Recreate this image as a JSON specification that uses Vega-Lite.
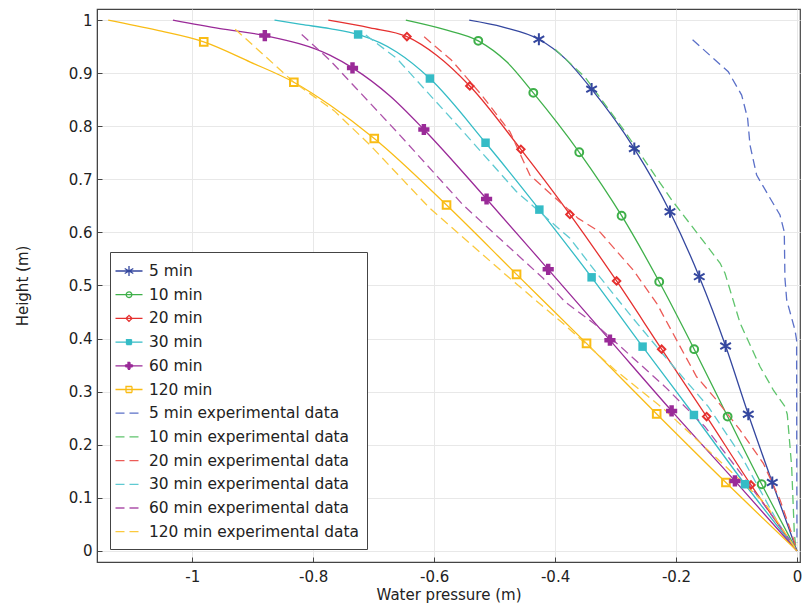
{
  "$schema": "https://vega.github.io/schema/vega-lite/v6.json",
  "width": 703,
  "height": 553,
  "autosize": {"type": "none"},
  "padding": {"left": 97, "top": 9, "right": 2, "bottom": 41},
  "background": "white",
  "config": {
    "view": {"stroke": "#444", "strokeWidth": 1.2},
    "font": "DejaVu Sans"
  },
  "datasets": {
    "model": [
      {"series": "5 min", "p": -0.542, "h": 1.0}, {"series": "5 min", "p": -0.486, "h": 0.987}, {"series": "5 min", "p": -0.4268, "h": 0.964}, {"series": "5 min", "p": -0.3838, "h": 0.928}, {"series": "5 min", "p": -0.3396, "h": 0.87}, {"series": "5 min", "p": -0.269, "h": 0.758}, {"series": "5 min", "p": -0.21, "h": 0.639}, {"series": "5 min", "p": -0.1616, "h": 0.5166}, {"series": "5 min", "p": -0.118, "h": 0.386}, {"series": "5 min", "p": -0.0805, "h": 0.2574}, {"series": "5 min", "p": -0.0408, "h": 0.1287}, {"series": "5 min", "p": 0, "h": 0},
      {"series": "10 min", "p": -0.6468, "h": 1.0}, {"series": "10 min", "p": -0.585, "h": 0.983}, {"series": "10 min", "p": -0.527, "h": 0.961}, {"series": "10 min", "p": -0.48, "h": 0.9215}, {"series": "10 min", "p": -0.436, "h": 0.863}, {"series": "10 min", "p": -0.36, "h": 0.751}, {"series": "10 min", "p": -0.29, "h": 0.6315}, {"series": "10 min", "p": -0.2278, "h": 0.507}, {"series": "10 min", "p": -0.17, "h": 0.38}, {"series": "10 min", "p": -0.1147, "h": 0.253}, {"series": "10 min", "p": -0.0584, "h": 0.1255}, {"series": "10 min", "p": 0, "h": 0},
      {"series": "20 min", "p": -0.775, "h": 1.0}, {"series": "20 min", "p": -0.706, "h": 0.9855}, {"series": "20 min", "p": -0.645, "h": 0.969}, {"series": "20 min", "p": -0.596, "h": 0.934}, {"series": "20 min", "p": -0.541, "h": 0.876}, {"series": "20 min", "p": -0.4566, "h": 0.7565}, {"series": "20 min", "p": -0.3755, "h": 0.634}, {"series": "20 min", "p": -0.2983, "h": 0.5085}, {"series": "20 min", "p": -0.2238, "h": 0.38}, {"series": "20 min", "p": -0.1494, "h": 0.253}, {"series": "20 min", "p": -0.0761, "h": 0.1243}, {"series": "20 min", "p": 0, "h": 0},
      {"series": "30 min", "p": -0.864, "h": 1.0}, {"series": "30 min", "p": -0.82, "h": 0.992}, {"series": "30 min", "p": -0.7725, "h": 0.984}, {"series": "30 min", "p": -0.7257, "h": 0.973}, {"series": "30 min", "p": -0.662, "h": 0.94}, {"series": "30 min", "p": -0.607, "h": 0.89}, {"series": "30 min", "p": -0.515, "h": 0.769}, {"series": "30 min", "p": -0.426, "h": 0.643}, {"series": "30 min", "p": -0.3396, "h": 0.5154}, {"series": "30 min", "p": -0.2553, "h": 0.3848}, {"series": "30 min", "p": -0.1704, "h": 0.256}, {"series": "30 min", "p": -0.086, "h": 0.1255}, {"series": "30 min", "p": 0, "h": 0},
      {"series": "60 min", "p": -1.032, "h": 1.0}, {"series": "60 min", "p": -0.954, "h": 0.984}, {"series": "60 min", "p": -0.88, "h": 0.971}, {"series": "60 min", "p": -0.7725, "h": 0.934}, {"series": "60 min", "p": -0.735, "h": 0.91}, {"series": "60 min", "p": -0.673, "h": 0.857}, {"series": "60 min", "p": -0.617, "h": 0.794}, {"series": "60 min", "p": -0.5133, "h": 0.663}, {"series": "60 min", "p": -0.4114, "h": 0.5305}, {"series": "60 min", "p": -0.3093, "h": 0.397}, {"series": "60 min", "p": -0.2073, "h": 0.2637}, {"series": "60 min", "p": -0.1026, "h": 0.1318}, {"series": "60 min", "p": 0, "h": 0},
      {"series": "120 min", "p": -1.139, "h": 1.0}, {"series": "120 min", "p": -1.0587, "h": 0.981}, {"series": "120 min", "p": -0.981, "h": 0.959}, {"series": "120 min", "p": -0.904, "h": 0.921}, {"series": "120 min", "p": -0.832, "h": 0.883}, {"series": "120 min", "p": -0.7725, "h": 0.84}, {"series": "120 min", "p": -0.699, "h": 0.777}, {"series": "120 min", "p": -0.5795, "h": 0.6516}, {"series": "120 min", "p": -0.4637, "h": 0.521}, {"series": "120 min", "p": -0.348, "h": 0.391}, {"series": "120 min", "p": -0.232, "h": 0.258}, {"series": "120 min", "p": -0.1175, "h": 0.1287}, {"series": "120 min", "p": 0, "h": 0}
    ],
    "markers": [
      {"series": "5 min", "p": -0.4268, "h": 0.964}, {"series": "5 min", "p": -0.3396, "h": 0.87}, {"series": "5 min", "p": -0.269, "h": 0.758}, {"series": "5 min", "p": -0.21, "h": 0.639}, {"series": "5 min", "p": -0.1616, "h": 0.5166}, {"series": "5 min", "p": -0.118, "h": 0.386}, {"series": "5 min", "p": -0.0805, "h": 0.2574}, {"series": "5 min", "p": -0.0408, "h": 0.1287},
      {"series": "10 min", "p": -0.527, "h": 0.961}, {"series": "10 min", "p": -0.436, "h": 0.863}, {"series": "10 min", "p": -0.36, "h": 0.751}, {"series": "10 min", "p": -0.29, "h": 0.6315}, {"series": "10 min", "p": -0.2278, "h": 0.507}, {"series": "10 min", "p": -0.17, "h": 0.38}, {"series": "10 min", "p": -0.1147, "h": 0.253}, {"series": "10 min", "p": -0.0584, "h": 0.1255},
      {"series": "20 min", "p": -0.645, "h": 0.969}, {"series": "20 min", "p": -0.541, "h": 0.876}, {"series": "20 min", "p": -0.4566, "h": 0.7565}, {"series": "20 min", "p": -0.3755, "h": 0.634}, {"series": "20 min", "p": -0.2983, "h": 0.5085}, {"series": "20 min", "p": -0.2238, "h": 0.38}, {"series": "20 min", "p": -0.1494, "h": 0.253}, {"series": "20 min", "p": -0.0761, "h": 0.1243},
      {"series": "30 min", "p": -0.7257, "h": 0.973}, {"series": "30 min", "p": -0.607, "h": 0.89}, {"series": "30 min", "p": -0.515, "h": 0.769}, {"series": "30 min", "p": -0.426, "h": 0.643}, {"series": "30 min", "p": -0.3396, "h": 0.5154}, {"series": "30 min", "p": -0.2553, "h": 0.3848}, {"series": "30 min", "p": -0.1704, "h": 0.256}, {"series": "30 min", "p": -0.086, "h": 0.1255},
      {"series": "60 min", "p": -0.88, "h": 0.971}, {"series": "60 min", "p": -0.735, "h": 0.91}, {"series": "60 min", "p": -0.617, "h": 0.794}, {"series": "60 min", "p": -0.5133, "h": 0.663}, {"series": "60 min", "p": -0.4114, "h": 0.5305}, {"series": "60 min", "p": -0.3093, "h": 0.397}, {"series": "60 min", "p": -0.2073, "h": 0.2637}, {"series": "60 min", "p": -0.1026, "h": 0.1318},
      {"series": "120 min", "p": -0.981, "h": 0.959}, {"series": "120 min", "p": -0.832, "h": 0.883}, {"series": "120 min", "p": -0.699, "h": 0.777}, {"series": "120 min", "p": -0.5795, "h": 0.6516}, {"series": "120 min", "p": -0.4637, "h": 0.521}, {"series": "120 min", "p": -0.348, "h": 0.391}, {"series": "120 min", "p": -0.232, "h": 0.258}, {"series": "120 min", "p": -0.1175, "h": 0.1287}
    ],
    "exp": [
      {"series": "5 min experimental data", "p": -0.1726, "h": 0.963}, {"series": "5 min experimental data", "p": -0.1136, "h": 0.9027}, {"series": "5 min experimental data", "p": -0.0915, "h": 0.8588}, {"series": "5 min experimental data", "p": -0.0816, "h": 0.815}, {"series": "5 min experimental data", "p": -0.0777, "h": 0.7646}, {"series": "5 min experimental data", "p": -0.0667, "h": 0.708}, {"series": "5 min experimental data", "p": -0.0475, "h": 0.6704}, {"series": "5 min experimental data", "p": -0.0281, "h": 0.6328}, {"series": "5 min experimental data", "p": -0.021, "h": 0.601}, {"series": "5 min experimental data", "p": -0.0199, "h": 0.5135}, {"series": "5 min experimental data", "p": -0.017, "h": 0.4727}, {"series": "5 min experimental data", "p": -0.0033, "h": 0.416}, {"series": "5 min experimental data", "p": -0.0006, "h": 0.397}, {"series": "5 min experimental data", "p": -0.0004, "h": 0.2}, {"series": "5 min experimental data", "p": 0, "h": 0.015},
      {"series": "10 min experimental data", "p": -0.4, "h": 0.945}, {"series": "10 min experimental data", "p": -0.3507, "h": 0.893}, {"series": "10 min experimental data", "p": -0.2845, "h": 0.79}, {"series": "10 min experimental data", "p": -0.207, "h": 0.661}, {"series": "10 min experimental data", "p": -0.1605, "h": 0.592}, {"series": "10 min experimental data", "p": -0.127, "h": 0.5418}, {"series": "10 min experimental data", "p": -0.119, "h": 0.523}, {"series": "10 min experimental data", "p": -0.094, "h": 0.4288}, {"series": "10 min experimental data", "p": -0.061, "h": 0.347}, {"series": "10 min experimental data", "p": -0.039, "h": 0.303}, {"series": "10 min experimental data", "p": -0.0199, "h": 0.2718}, {"series": "10 min experimental data", "p": -0.016, "h": 0.257}, {"series": "10 min experimental data", "p": -0.0088, "h": 0.159}, {"series": "10 min experimental data", "p": -0.0044, "h": 0.033}, {"series": "10 min experimental data", "p": -0.002, "h": 0.008},
      {"series": "20 min experimental data", "p": -0.6165, "h": 0.9686}, {"series": "20 min experimental data", "p": -0.5716, "h": 0.925}, {"series": "20 min experimental data", "p": -0.5216, "h": 0.859}, {"series": "20 min experimental data", "p": -0.4748, "h": 0.79}, {"series": "20 min experimental data", "p": -0.4417, "h": 0.708}, {"series": "20 min experimental data", "p": -0.3866, "h": 0.6516}, {"series": "20 min experimental data", "p": -0.3618, "h": 0.6265}, {"series": "20 min experimental data", "p": -0.326, "h": 0.601}, {"series": "20 min experimental data", "p": -0.2708, "h": 0.529}, {"series": "20 min experimental data", "p": -0.232, "h": 0.4665}, {"series": "20 min experimental data", "p": -0.199, "h": 0.397}, {"series": "20 min experimental data", "p": -0.166, "h": 0.328}, {"series": "20 min experimental data", "p": -0.1328, "h": 0.284}, {"series": "20 min experimental data", "p": -0.0943, "h": 0.228}, {"series": "20 min experimental data", "p": -0.0557, "h": 0.165}, {"series": "20 min experimental data", "p": -0.028, "h": 0.096}, {"series": "20 min experimental data", "p": -0.0088, "h": 0.033}, {"series": "20 min experimental data", "p": -0.002, "h": 0.008},
      {"series": "30 min experimental data", "p": -0.713, "h": 0.972}, {"series": "30 min experimental data", "p": -0.662, "h": 0.928}, {"series": "30 min experimental data", "p": -0.552, "h": 0.79}, {"series": "30 min experimental data", "p": -0.4637, "h": 0.6767}, {"series": "30 min experimental data", "p": -0.3755, "h": 0.589}, {"series": "30 min experimental data", "p": -0.3287, "h": 0.5198}, {"series": "30 min experimental data", "p": -0.2735, "h": 0.4413}, {"series": "30 min experimental data", "p": -0.2184, "h": 0.366}, {"series": "30 min experimental data", "p": -0.1467, "h": 0.2718}, {"series": "30 min experimental data", "p": -0.0915, "h": 0.1776}, {"series": "30 min experimental data", "p": -0.0309, "h": 0.0521}, {"series": "30 min experimental data", "p": -0.002, "h": 0.005},
      {"series": "60 min experimental data", "p": -0.819, "h": 0.973}, {"series": "60 min experimental data", "p": -0.7725, "h": 0.9247}, {"series": "60 min experimental data", "p": -0.662, "h": 0.79}, {"series": "60 min experimental data", "p": -0.552, "h": 0.6516}, {"series": "60 min experimental data", "p": -0.4197, "h": 0.5135}, {"series": "60 min experimental data", "p": -0.3838, "h": 0.4695}, {"series": "60 min experimental data", "p": -0.3287, "h": 0.4224}, {"series": "60 min experimental data", "p": -0.2735, "h": 0.366}, {"series": "60 min experimental data", "p": -0.2184, "h": 0.3094}, {"series": "60 min experimental data", "p": -0.1522, "h": 0.234}, {"series": "60 min experimental data", "p": -0.0805, "h": 0.1274}, {"series": "60 min experimental data", "p": -0.002, "h": 0.005},
      {"series": "120 min experimental data", "p": -0.929, "h": 0.983}, {"series": "120 min experimental data", "p": -0.832, "h": 0.883}, {"series": "120 min experimental data", "p": -0.765, "h": 0.829}, {"series": "120 min experimental data", "p": -0.706, "h": 0.7646}, {"series": "120 min experimental data", "p": -0.607, "h": 0.6453}, {"series": "120 min experimental data", "p": -0.4748, "h": 0.5135}, {"series": "120 min experimental data", "p": -0.3838, "h": 0.4256}, {"series": "120 min experimental data", "p": -0.301, "h": 0.341}, {"series": "120 min experimental data", "p": -0.2184, "h": 0.2655}, {"series": "120 min experimental data", "p": -0.1356, "h": 0.1776}, {"series": "120 min experimental data", "p": -0.0529, "h": 0.0898}, {"series": "120 min experimental data", "p": -0.002, "h": 0.004}
    ]
  },
  "encoding": {
    "x": {
      "field": "p", "type": "quantitative",
      "scale": {"domain": [-1.1575, 0.005], "nice": false, "zero": false},
      "axis": {
        "title": "Water pressure (m)",
        "values": [-1, -0.8, -0.6, -0.4, -0.2, 0],
        "labelExpr": "datum.value === 0 ? '0' : '' + round(datum.value * 10) / 10",
        "labelFont": "DejaVu Sans", "labelFontSize": 15, "labelColor": "#222",
        "titleFont": "DejaVu Sans", "titleFontSize": 15, "titleFontWeight": "normal", "titleColor": "#222",
        "grid": true, "gridColor": "#e8e8e8", "gridWidth": 1,
        "domainColor": "#444", "tickColor": "#444", "tickSize": -5,
        "labelPadding": 12, "titlePadding": 3
      }
    },
    "y": {
      "field": "h", "type": "quantitative",
      "scale": {"domain": [-0.021, 1.021], "nice": false, "zero": false},
      "axis": {
        "title": "Height (m)",
        "values": [0, 0.1, 0.2, 0.3, 0.4, 0.5, 0.6, 0.7, 0.8, 0.9, 1],
        "labelExpr": "'' + round(datum.value * 10) / 10",
        "labelFont": "DejaVu Sans", "labelFontSize": 15, "labelColor": "#222",
        "titleFont": "DejaVu Sans", "titleFontSize": 15, "titleFontWeight": "normal", "titleColor": "#222",
        "grid": true, "gridColor": "#e8e8e8", "gridWidth": 1,
        "domainColor": "#444", "tickColor": "#444", "tickSize": -5,
        "labelPadding": 10, "titlePadding": 38
      }
    },
    "color": {
      "field": "series", "type": "nominal",
      "scale": {
        "domain": ["5 min", "10 min", "20 min", "30 min", "60 min", "120 min", "5 min experimental data", "10 min experimental data", "20 min experimental data", "30 min experimental data", "60 min experimental data", "120 min experimental data"],
        "range": ["#34479f", "#3fb04a", "#e5302f", "#35bcc6", "#9a2a98", "#f9bc15", "#5b70c8", "#5fc46c", "#ec5b57", "#5fcad2", "#ad52aa", "#fbc93d"]
      },
      "legend": {
        "title": null, "orient": "none", "legendX": 13, "legendY": 243,
        "labelFont": "DejaVu Sans", "labelFontSize": 15.4, "labelColor": "#222", "labelLimit": 400,
        "symbolType": "stroke", "symbolSize": 400, "symbolStrokeWidth": 1.3,
        "rowPadding": 3.7, "padding": 8, "labelOffset": 9,
        "strokeColor": "#444", "fillColor": "#ffffff",
        "encode": {
          "symbols": {
            "update": {
              "shape": {"signal": "datum.value === '5 min' ? 'M-1.35,0H1.35M0,-0.5V0.5M-0.43,-0.25L0.43,0.25M-0.43,0.25L0.43,-0.25' : datum.value === '10 min' ? 'M-1.35,0H1.35M0.28,0A0.28,0.28,0,1,1,-0.28,0A0.28,0.28,0,1,1,0.28,0' : datum.value === '20 min' ? 'M-1.35,0H1.35M0,-0.3L0.3,0L0,0.3L-0.3,0Z' : datum.value === '30 min' ? 'M-1.35,0H1.35M-0.25,-0.25H0.25V0.25H-0.25Z' : datum.value === '60 min' ? 'M-1.35,0H1.35M-0.1,-0.35H0.1V-0.1H0.35V0.1H0.1V0.35H-0.1V0.1H-0.35V-0.1H-0.1Z' : datum.value === '120 min' ? 'M-1.35,0H1.35M-0.3,-0.3H0.3V0.3H-0.3Z' : 'M-1.35,0H1.35'"},
              "fill": {"signal": "scale('color', datum.value)"},
              "fillOpacity": {"signal": "(datum.value === '30 min' || datum.value === '60 min') ? 1 : 0"},
              "strokeDash": {"signal": "indexof(datum.value, 'experimental') >= 0 ? [9, 5] : [1, 0]"},
              "opacity": {"value": 1}
            }
          }
        }
      }
    },
    "shape": {
      "field": "series", "type": "nominal", "legend": null,
      "scale": {"type": "ordinal", "domain": ["5 min", "10 min", "20 min", "30 min", "60 min", "120 min"], "range": ["M0,-1V1M-0.87,-0.5L0.87,0.5M-0.87,0.5L0.87,-0.5", "circle", "diamond", "square", "cross", "square"]}
    },
    "size": {
      "field": "series", "type": "nominal", "legend": null,
      "scale": {"type": "ordinal", "domain": ["5 min", "10 min", "20 min", "30 min", "60 min", "120 min"], "range": [150, 62, 55, 72, 125, 58]}
    }
  },
  "layer": [
    {
      "data": {"name": "model"},
      "mark": {"type": "line", "interpolate": "monotone", "strokeWidth": 1.3},
      "encoding": {
        "shape": null,
        "size": null,
        "order": {"field": "h", "type": "quantitative", "sort": "descending"}
      }
    },
    {
      "data": {"name": "exp"},
      "mark": {"type": "line", "interpolate": "linear", "strokeWidth": 1.3, "strokeDash": [9, 5]},
      "encoding": {
        "shape": null,
        "size": null,
        "order": {"field": "h", "type": "quantitative", "sort": "descending"}
      }
    },
    {
      "data": {"name": "markers"},
      "transform": [{"filter": "datum.series !== '30 min' && datum.series !== '60 min'"}],
      "mark": {"type": "point", "filled": false, "strokeWidth": 2, "opacity": 1}
    },
    {
      "data": {"name": "markers"},
      "transform": [{"filter": "datum.series === '30 min' || datum.series === '60 min'"}],
      "mark": {"type": "point", "filled": true, "opacity": 1}
    }
  ]
}
